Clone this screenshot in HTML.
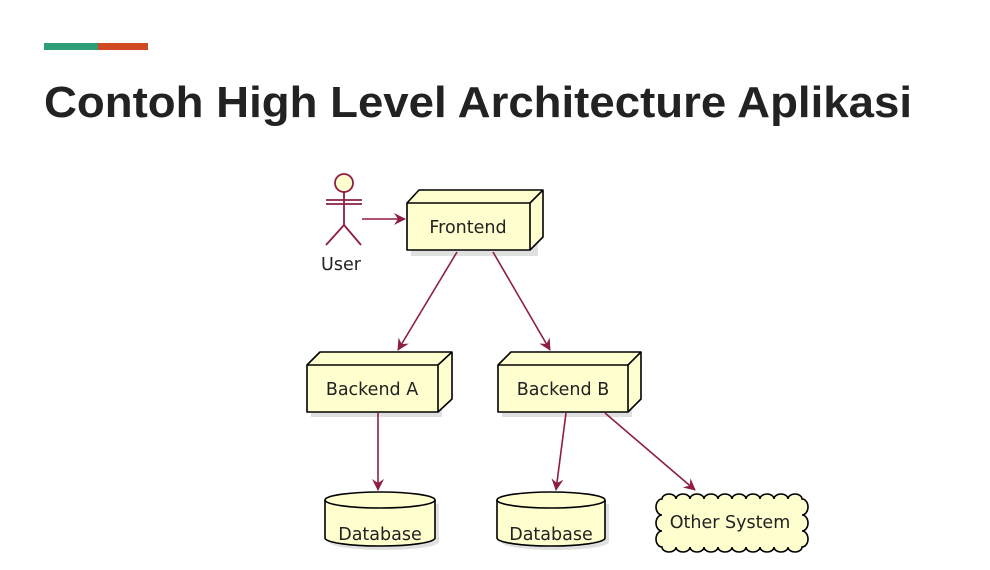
<!DOCTYPE html>
<html><head><meta charset="utf-8"><style>
html,body{margin:0;padding:0;background:#fff;width:990px;height:570px;overflow:hidden}
svg{display:block}
</style></head><body>
<svg width="990" height="570" viewBox="0 0 990 570" xmlns="http://www.w3.org/2000/svg">
<defs>
<marker id="ar" markerWidth="14" markerHeight="12" refX="11" refY="6" orient="auto" markerUnits="userSpaceOnUse">
<path d="M0,0 L12,6 L0,12 L4,6 Z" fill="#8E1E45"/>
</marker>
</defs>
<rect x="44" y="43" width="54" height="7" fill="#2e9e7a"/>
<rect x="98" y="43" width="50" height="7" fill="#d04a22"/>
<text x="44" y="117" font-family="Liberation Sans, sans-serif" font-weight="bold" font-size="44" fill="#222" textLength="868" lengthAdjust="spacingAndGlyphs">Contoh High Level Architecture Aplikasi</text>

<g font-family="DejaVu Sans, Liberation Sans, sans-serif" font-size="17.5" fill="#222">
<g stroke="#8E1E45" stroke-width="1.8" fill="none">
<circle cx="344" cy="183" r="9" fill="#FEFECE"/>
<line x1="344" y1="192" x2="344" y2="225"/>
<line x1="326" y1="200" x2="362" y2="200"/>
<line x1="326" y1="204" x2="362" y2="204"/>
<line x1="344" y1="225" x2="326" y2="245"/>
<line x1="344" y1="225" x2="361" y2="245"/>
</g>
<text x="341" y="270" text-anchor="middle">User</text>

<g fill="#ccc" opacity="0.6">
<rect x="411" y="207" width="127" height="49"/>
<rect x="311" y="369" width="131" height="48"/>
<rect x="502" y="369" width="130" height="48"/>
</g>
<g stroke="#000" stroke-width="1.6" fill="#FEFECE" stroke-linejoin="round">
<path d="M407,203 L419,190 L543,190 L543,237 L530,250 L407,250 Z"/>
<path d="M407,203 L530,203 L543,190 M530,203 L530,250" fill="none"/>
<path d="M307,365 L320,352 L452,352 L452,399 L438,412 L307,412 Z"/>
<path d="M307,365 L438,365 L452,352 M438,365 L438,412" fill="none"/>
<path d="M498,365 L511,352 L641,352 L641,399 L628,412 L498,412 Z"/>
<path d="M498,365 L628,365 L641,352 M628,365 L628,412" fill="none"/>
</g>
<text x="468" y="233" text-anchor="middle">Frontend</text>
<text x="372" y="395" text-anchor="middle">Backend A</text>
<text x="563" y="395" text-anchor="middle">Backend B</text>

<g fill="#ccc" opacity="0.6">
<path d="M329,504 L329,542 A55,8 0 0,0 439,542 L439,504 Z"/>
<path d="M501,504 L501,542 A54,8 0 0,0 609,542 L609,504 Z"/>
</g>
<g stroke="#000" stroke-width="1.6" fill="#FEFECE">
<path d="M325,500 A55,8 0 0,1 435,500 L435,538 A55,8 0 0,1 325,538 Z"/>
<path d="M325,500 A55,8 0 0,0 435,500" fill="none"/>
<path d="M497,500 A54,8 0 0,1 605,500 L605,538 A54,8 0 0,1 497,538 Z"/>
<path d="M497,500 A54,8 0 0,0 605,500" fill="none"/>
</g>
<text x="380" y="540" text-anchor="middle">Database</text>
<text x="551" y="540" text-anchor="middle">Database</text>

<path d="M662,499 a7,5 0 0,1 14,0 a7,5 0 0,1 14,0 a7,5 0 0,1 14,0 a7,5 0 0,1 14,0 a7,5 0 0,1 14,0 a7,5 0 0,1 14,0 a7,5 0 0,1 14,0 a7,5 0 0,1 14,0 a7,5 0 0,1 14,0 a7,5 0 0,1 14,0 a6,8 0 0,1 0,16 a6,8 0 0,1 0,16 a6,8 0 0,1 0,16 a7,5 0 0,1 -14,0 a7,5 0 0,1 -14,0 a7,5 0 0,1 -14,0 a7,5 0 0,1 -14,0 a7,5 0 0,1 -14,0 a7,5 0 0,1 -14,0 a7,5 0 0,1 -14,0 a7,5 0 0,1 -14,0 a7,5 0 0,1 -14,0 a7,5 0 0,1 -14,0 a6,8 0 0,1 0,-16 a6,8 0 0,1 0,-16 a6,8 0 0,1 0,-16 Z" fill="#FEFECE" stroke="#000" stroke-width="1.6"/>
<text x="730" y="528" text-anchor="middle">Other System</text>

<g stroke="#8E1E45" stroke-width="1.6" marker-end="url(#ar)">
<line x1="362" y1="219" x2="405" y2="219"/>
<line x1="457" y1="252" x2="398" y2="350"/>
<line x1="493" y1="252" x2="550" y2="350"/>
<line x1="378" y1="413" x2="378" y2="490"/>
<line x1="566" y1="413" x2="556" y2="490"/>
<line x1="605" y1="413" x2="695" y2="490"/>
</g>
</g>
</svg>
</body></html>
